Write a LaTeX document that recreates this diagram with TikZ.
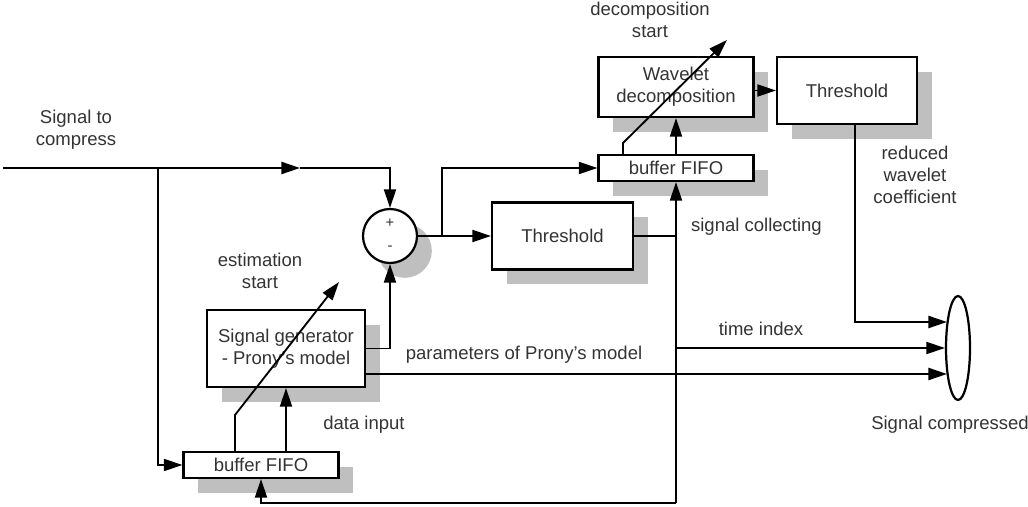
\documentclass[tikz,border=0pt]{standalone}
\usepackage{fontspec}
\setmainfont{Liberation Sans}
\usetikzlibrary{arrows.meta, shapes.geometric, shadows}
\newcommand{\px}{0.54pt}
\tikzset{
	flow/.style={-{Triangle[length=10pt, width=6.5pt]}},
	blk/.style={draw, line width=1.2pt, fill=white, align=center, text=black!80,
		drop shadow={shadow xshift=8pt, shadow yshift=-8pt, fill=black!25, opacity=1}},
	lbl/.style={align=center, text=black!80},
}

\begin{document}
\begin{tikzpicture}[x=\px, y=-\px, line width=1pt, font=\fontsize{10}{12}\selectfont]
	\useasboundingbox (0,0) rectangle (1028,507);

	% blocks
	\node [blk, circle, minimum size=54*\px, inner sep=0pt] (sum) at (390,236) {};
	\node [lbl, font=\fontsize{8}{9}\selectfont] (plus) at (390,223) {+};
	\node [lbl, font=\fontsize{8}{9}\selectfont] (minus) at (390,248) {-};
	\node [blk, minimum width=141*\px, minimum height=67*\px] (thrA) at (562.5,236) {Threshold};
	\node [blk, minimum width=155*\px, minimum height=26*\px, inner sep=0pt] (bufT) at (676,168) {buffer FIFO};
	\node [blk, minimum width=155*\px, minimum height=60*\px] (wav) at (676,87) {Wavelet\\decomposition};
	\node [blk, minimum width=140*\px, minimum height=67*\px] (thrB) at (847,90.5) {Threshold};
	\node [blk, minimum width=158*\px, minimum height=77*\px] (gen) at (286,348.5) {Signal generator\\- Prony's model};
	\node [blk, minimum width=155*\px, minimum height=26*\px, inner sep=0pt] (bufB) at (261,465) {buffer FIFO};
	\node [draw, ellipse, line width=1.2pt, minimum width=24*\px, minimum height=104*\px, inner sep=0pt] (out) at (958,348) {};

	% labels
	\node [lbl] (src-t) at (76,130) {Signal to\\compress};
	\node [lbl] (dec-t) at (650,20) {decomposition\\start};
	\node [lbl] (rwc-t) at (915,175) {reduced\\wavelet\\coefficient};
	\node [lbl, anchor=west] (col-t) at (684,227) {signal collecting};
	\node [lbl] (est-t) at (260,271) {estimation\\start};
	\node [lbl] (ti-t) at (761,329) {time index};
	\node [lbl] (par-t) at (524,355) {parameters of Prony's model};
	\node [lbl] (din-t) at (364,425) {data input};
	\node [lbl] (cmp-t) at (950,425) {Signal compressed};

	% connectors
	\coordinate (src) at (3,168);
	\coordinate (mid) at (300,168);
	\coordinate (splitA) at (158,168);
	\coordinate (splitB) at (442,236);
	\coordinate (fbk) at (676,503);
	\coordinate (decA) at (623,143);
	\coordinate (decB) at (727,40);
	\coordinate (estA) at (235,415);
	\coordinate (estB) at (339,282);
	\coordinate (inA) at (947,322);
	\coordinate (inC) at (947,374);
	\coordinate (ti) at (676,348);

	\draw [flow] (src) -- (mid);
	\draw [flow] (mid) -| (sum.north);
	\draw [flow] (splitA) |- (bufB.west);
	\draw [flow] (sum.east) -- (thrA.west);
	\draw [flow] (splitB) |- (bufT.west);
	\draw (thrA.east) -- (thrA.east -| fbk);
	\draw [flow] (fbk) -- (bufT.south);
	\draw [flow] (fbk) -| (bufB.south);
	\draw [flow] (bufT.north) -- (wav.south);
	\draw [flow] (bufT.north -| decA) -- (decA) -- (decB);
	\draw [flow] (wav.east |- thrB.west) -- (thrB.west);
	\draw [flow] ([xshift=8*\px]thrB.south) |- (inA);
	\draw [flow] (ti) -- (out.west);
	\draw [flow] (gen.east) -| (sum.south);
	\draw [flow] (gen.east |- inC) -- (inC);
	\draw [flow] (bufB.north -| gen.south) -- (gen.south);
	\draw [flow] (bufB.north -| estA) -- (estA) -- (estB);
\end{tikzpicture}
\end{document}
